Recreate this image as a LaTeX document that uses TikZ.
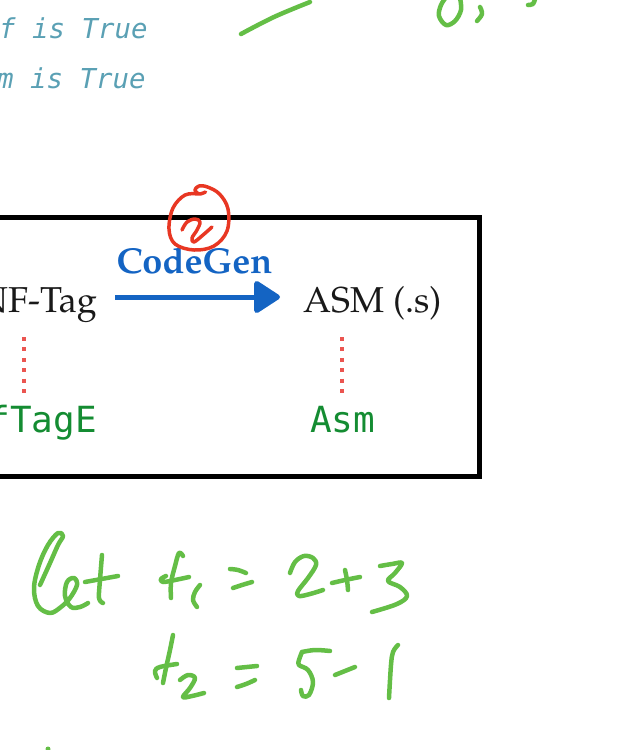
\documentclass[tikz,border=0pt]{standalone}
\usepackage[T1]{fontenc}
\usepackage{fontspec}
\usetikzlibrary{arrows.meta}
\newfontfamily\dvmono{DejaVu Sans Mono}
\newcommand\palfont{\fontencoding{T1}\fontfamily{ppl}\selectfont}
\definecolor{codeteal}{RGB}{90,160,180}
\definecolor{handgreen}{RGB}{100,190,70}
\definecolor{typegreen}{RGB}{20,140,50}
\definecolor{cgblue}{RGB}{20,100,195}
\definecolor{dotred}{RGB}{235,85,80}
\definecolor{circred}{RGB}{232,55,35}
\tikzset{
  codetext/.style={inner sep=0pt, text=codeteal, font=\dvmono\itshape\fontsize{27.4}{32}\selectfont},
  paltext/.style={inner sep=0pt, text height=30pt, text depth=0pt, text={black!90}, font=\palfont\fontsize{36}{42}\selectfont},
  cgtext/.style={inner sep=0pt, text=cgblue, font=\palfont\bfseries\fontsize{36}{42}\selectfont},
  gmono/.style={inner sep=0pt, text=typegreen, font=\dvmono\fontsize{36}{42}\selectfont},
  frame/.style={draw=black, line width=5pt},
  cgarrow/.style={draw=cgblue, line width=5pt, shorten <=18pt, shorten >=23pt,
     -{Triangle[length=28pt, width=35pt, round]}},
  reddots/.style={draw=dotred, line width=4pt, dash pattern=on 4pt off 6.4pt},
  hand/.style={draw=handgreen, line width=4.5pt, line cap=round, line join=round},
  redhand/.style={draw=circred, line width=3.5pt, line cap=round, line join=round}
}
\begin{document}
\begin{tikzpicture}[x=1pt, y=-1pt]
\useasboundingbox (0,0) rectangle (630,750);
\clip (0,0) rectangle (630,750);

% code comments at top
\node[codetext, anchor=base west] (c1) at (-1,38) {f is True};
\node[codetext, anchor=base west] (c2) at (-3,88) {m is True};

% frame
\draw[frame] (-10,217) rectangle (479,476);

% nodes
\node[paltext, anchor=base east] (nftag) at (97,312) {NF-Tag};
\node[paltext, anchor=base west] (asm) at (303,312) {ASM (.s)};
\node[cgtext, anchor=base] (codegen) at (194.5,273) {CodeGen};
\draw[cgarrow] (nftag.east) -- (asm.west);

\node[gmono, anchor=base east] (ftage) at (97,432) {fTagE};
\node[gmono, anchor=base west] (asmty) at (310,432) {Asm};

\coordinate (d1a) at (24,337);
\coordinate (d1b) at (24,393);
\coordinate (d2a) at (342,337);
\coordinate (d2b) at (342,393);
\draw[reddots] (d1a) -- (d1b);
\draw[reddots] (d2a) -- (d2b);

% circled 2
\draw[redhand] plot[smooth, tension=0.6] coordinates {(198,194) (185,195) (173,208) (169,229) (175,244) (194,250) (214,246) (227,231) (228,209) (219.5,194) (207.5,187) (199,186) (195,190) (199,194) (205.5,192)};
\draw[redhand] plot[smooth, tension=0.6] coordinates {(182,230) (187,222) (195,219) (200,222) (197,230) (192,238) (194,242) (203,235) (212,227)};

% top handwriting
\draw[hand] plot[smooth, tension=0.6] coordinates {(241,34) (274,17) (310,2)};
\draw[hand] plot[smooth, tension=0.6] coordinates {(447,-4) (441,5) (439,16) (446,25) (455,21) (461,10) (460,-2)};
\draw[hand] plot[smooth, tension=0.6] coordinates {(480,7) (482,14) (477,21)};
\draw[hand] plot[smooth, tension=0.6] coordinates {(535,-1) (533,4) (528,5)};

% let
\draw[hand] plot[smooth, tension=0.6] coordinates {(40,585) (50,563) (58,545) (63,536) (58,533) (48,545) (39,565) (34,588) (38,606) (50,613) (61,607) (70,598) (77,585) (74,578) (67,582) (65,596) (71,607) (80,607) (88,603)};
\draw[hand] plot[smooth, tension=0.6] coordinates {(102,555) (100,580) (99,598) (103,603)};
\draw[hand] (85,582) -- (118,576);

% t1 = 2+3
\draw[hand] plot[smooth, tension=0.6] coordinates {(183,556) (179,553) (175,566) (171,583) (171,598)};
\draw[hand] plot[smooth, tension=0.6] coordinates {(166,576) (161,579) (163,582) (175,580) (189,577)};
\draw[hand] plot[smooth, tension=0.6] coordinates {(200,585) (195,592) (193,600) (197,607)};
\draw[hand] plot[smooth, tension=0.6] coordinates {(230,569) (238,570) (246,573)};
\draw[hand] plot[smooth, tension=0.6] coordinates {(233,588) (242,585) (252,582)};
\draw[hand] plot[smooth, tension=0.6] coordinates {(290,573) (295,562) (304,556) (313,558) (316,565) (308,578) (298,591) (299,596) (310,594) (323,590)};
\draw[hand] plot[smooth, tension=0.6] coordinates {(332,583) (345,580) (360,577)};
\draw[hand] plot[smooth, tension=0.6] coordinates {(345,570) (347,580) (348,590)};
\draw[hand] plot[smooth, tension=0.6] coordinates {(380,566) (392,564) (402,563) (395,573) (388,581) (400,587) (407,596) (397,604) (372,612)};

% t2 = 5-1
\draw[hand] plot[smooth, tension=0.6] coordinates {(173,635) (170,650) (166,668) (163,683)};
\draw[hand] plot[smooth, tension=0.6] coordinates {(157,678) (155,671) (160,667) (177,664)};
\draw[hand] plot[smooth, tension=0.6] coordinates {(180,680) (188,675) (195,678) (190,688) (183,697) (192,696) (204,693)};
\draw[hand] plot[smooth, tension=0.6] coordinates {(237,668) (247,667) (257,666)};
\draw[hand] plot[smooth, tension=0.6] coordinates {(237,687) (246,684) (255,680)};
\draw[hand] plot[smooth, tension=0.6] coordinates {(302,652) (315,650) (330,651)};
\draw[hand] plot[smooth, tension=0.6] coordinates {(302,652) (299,660) (299,665) (308,670) (313,682) (309,695) (303,696) (301,690)};
\draw[hand] plot[smooth, tension=0.6] coordinates {(335,675) (345,671) (355,667)};
\draw[hand] plot[smooth, tension=0.6] coordinates {(398,645) (393,652) (391,665) (389,698)};

% dot at bottom
\fill[handgreen] (48,749) circle (2.5);
\end{tikzpicture}
\end{document}
